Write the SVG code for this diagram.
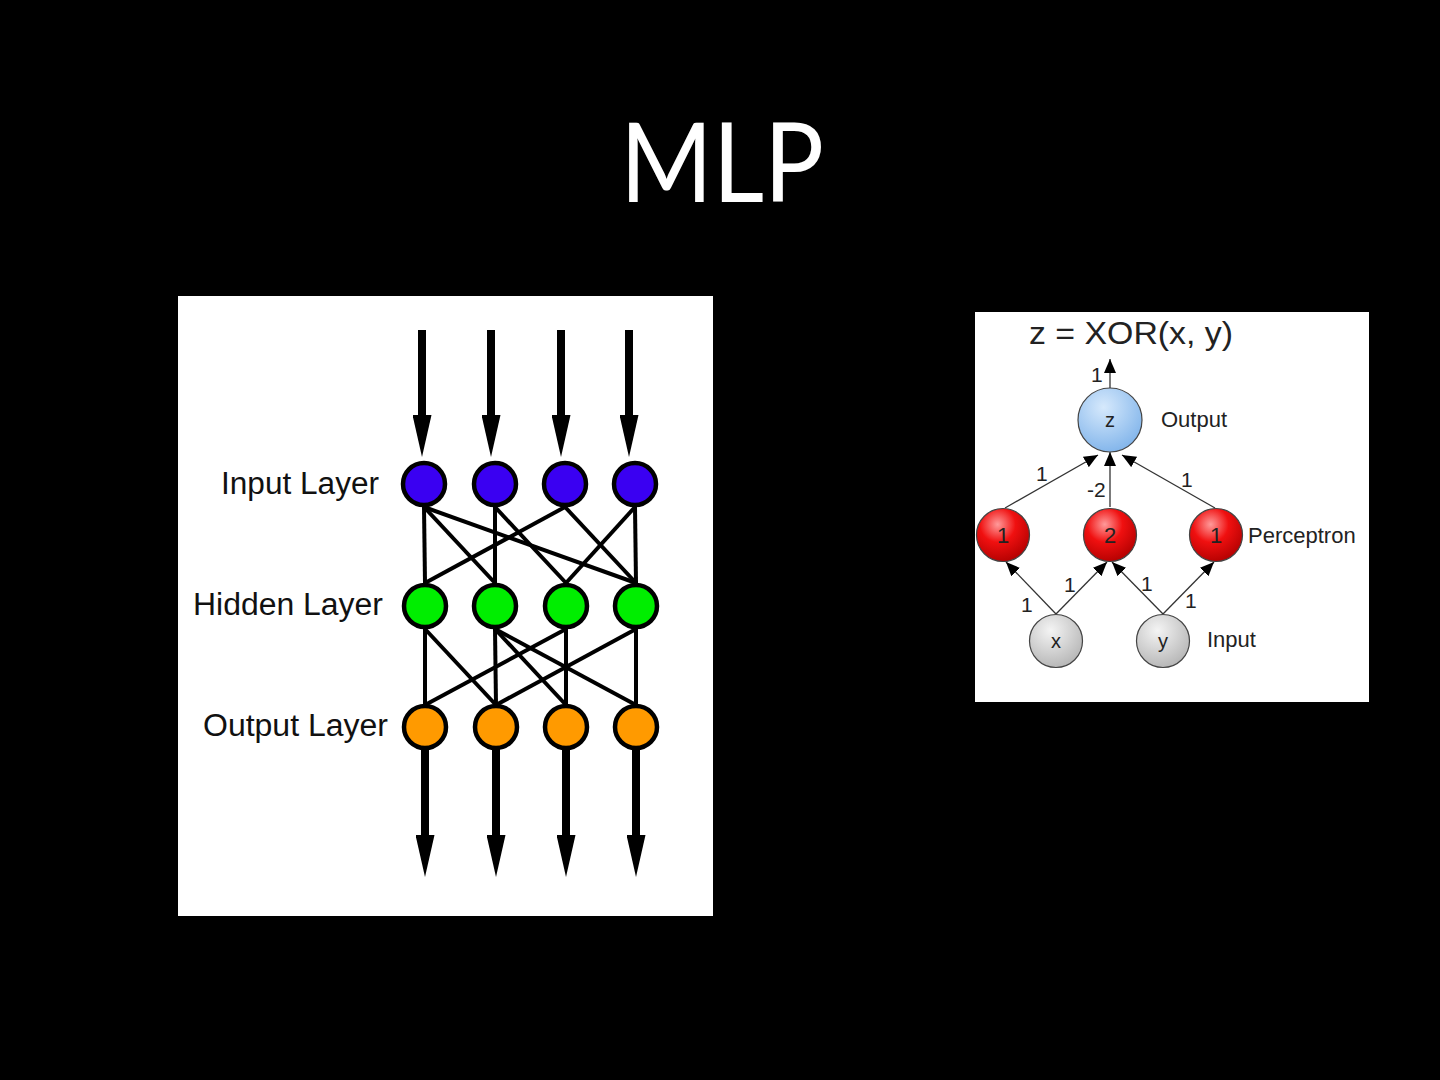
<svg xmlns="http://www.w3.org/2000/svg" width="1440" height="1080" viewBox="0 0 1440 1080">
<defs>
<style>
.bg{fill:#000}
.panel{fill:#fff}
.title{font-family:Lato,"Liberation Sans",sans-serif;font-size:110px;fill:#fff}
.lbl{font-family:"Liberation Sans",Arial,sans-serif;font-size:31px;fill:#111}
.rl{font-family:"Liberation Sans",Arial,sans-serif;font-size:22px;fill:#222}
.in{fill:#3a00f2;stroke:#000;stroke-width:4.5}
.hid{fill:#00ee00;stroke:#000;stroke-width:4.5}
.out{fill:#ff9a00;stroke:#000;stroke-width:4.5}
.e{stroke:#000;stroke-width:4;fill:none}
.big{stroke:#000;stroke-width:8;fill:none}
.thin{stroke:#333;stroke-width:1.3;fill:none}
.rn{stroke:#444;stroke-width:1.2}
</style>
<marker id="bigHead" markerUnits="userSpaceOnUse" markerWidth="42" markerHeight="19" refX="0" refY="9.5" orient="auto" viewBox="0 0 42 19">
<path d="M0,0 L42,9.5 L0,19 z" fill="#000"/>
</marker>
<marker id="smallHead" markerUnits="userSpaceOnUse" markerWidth="14" markerHeight="12" refX="14" refY="6" orient="auto" viewBox="0 0 14 12">
<path d="M0,0 L14,6 L0,12 z" fill="#000"/>
</marker>
<radialGradient id="gBlue" cx="0.4" cy="0.3" r="0.75">
<stop offset="0" stop-color="#d6e9fc"/>
<stop offset="1" stop-color="#7fb3ea"/>
</radialGradient>
<radialGradient id="gRed" cx="0.4" cy="0.3" r="0.75">
<stop offset="0" stop-color="#ff9a9a"/>
<stop offset="0.45" stop-color="#f01010"/>
<stop offset="1" stop-color="#b00000"/>
</radialGradient>
<radialGradient id="gGray" cx="0.4" cy="0.3" r="0.75">
<stop offset="0" stop-color="#f4f4f4"/>
<stop offset="1" stop-color="#b4b4b4"/>
</radialGradient>
</defs>
<rect class="bg" x="0" y="0" width="1440" height="1080"/>
<text class="title" x="620" y="202" textLength="204" lengthAdjust="spacingAndGlyphs">MLP</text>

<!-- Left panel -->
<rect class="panel" x="178" y="296" width="535" height="620"/>
<text class="lbl" x="221" y="494" textLength="158" lengthAdjust="spacingAndGlyphs">Input Layer</text>
<text class="lbl" x="193" y="615" textLength="190" lengthAdjust="spacingAndGlyphs">Hidden Layer</text>
<text class="lbl" x="203" y="736" textLength="185" lengthAdjust="spacingAndGlyphs">Output Layer</text>

<g id="connectors">
<line class="big" x1="422" y1="330" x2="422" y2="415" marker-end="url(#bigHead)"/>
<line class="big" x1="491" y1="330" x2="491" y2="415" marker-end="url(#bigHead)"/>
<line class="big" x1="561" y1="330" x2="561" y2="415" marker-end="url(#bigHead)"/>
<line class="big" x1="629" y1="330" x2="629" y2="415" marker-end="url(#bigHead)"/>
<line class="e" x1="424" y1="507" x2="425" y2="583"/>
<line class="e" x1="424" y1="507" x2="495" y2="583"/>
<line class="e" x1="424" y1="507" x2="636" y2="583"/>
<line class="e" x1="495" y1="507" x2="495" y2="583"/>
<line class="e" x1="495" y1="507" x2="566" y2="583"/>
<line class="e" x1="565" y1="507" x2="425" y2="583"/>
<line class="e" x1="565" y1="507" x2="636" y2="583"/>
<line class="e" x1="635" y1="507" x2="566" y2="583"/>
<line class="e" x1="635" y1="507" x2="636" y2="583"/>
<line class="e" x1="425" y1="629" x2="425" y2="705"/>
<line class="e" x1="425" y1="629" x2="496" y2="705"/>
<line class="e" x1="495" y1="629" x2="496" y2="705"/>
<line class="e" x1="495" y1="629" x2="566" y2="705"/>
<line class="e" x1="495" y1="629" x2="636" y2="705"/>
<line class="e" x1="566" y1="629" x2="425" y2="705"/>
<line class="e" x1="566" y1="629" x2="566" y2="705"/>
<line class="e" x1="636" y1="629" x2="496" y2="705"/>
<line class="e" x1="636" y1="629" x2="636" y2="705"/>
<line class="big" x1="425" y1="748" x2="425" y2="835" marker-end="url(#bigHead)"/>
<line class="big" x1="496" y1="748" x2="496" y2="835" marker-end="url(#bigHead)"/>
<line class="big" x1="566" y1="748" x2="566" y2="835" marker-end="url(#bigHead)"/>
<line class="big" x1="636" y1="748" x2="636" y2="835" marker-end="url(#bigHead)"/>
</g>

<g id="in1"><circle class="in" cx="424" cy="484" r="21"/></g>
<g id="in2"><circle class="in" cx="495" cy="484" r="21"/></g>
<g id="in3"><circle class="in" cx="565" cy="484" r="21"/></g>
<g id="in4"><circle class="in" cx="635" cy="484" r="21"/></g>
<g id="h1"><circle class="hid" cx="425" cy="606" r="21"/></g>
<g id="h2"><circle class="hid" cx="495" cy="606" r="21"/></g>
<g id="h3"><circle class="hid" cx="566" cy="606" r="21"/></g>
<g id="h4"><circle class="hid" cx="636" cy="606" r="21"/></g>
<g id="o1"><circle class="out" cx="425" cy="727" r="21"/></g>
<g id="o2"><circle class="out" cx="496" cy="727" r="21"/></g>
<g id="o3"><circle class="out" cx="566" cy="727" r="21"/></g>
<g id="o4"><circle class="out" cx="636" cy="727" r="21"/></g>

<!-- Right panel -->
<rect class="panel" x="975" y="312" width="394" height="390"/>
<text class="rl" x="1029" y="344" style="font-size:32px" textLength="204" lengthAdjust="spacingAndGlyphs">z = XOR(x, y)</text>

<g id="connectors-right">
<line class="thin" x1="1110" y1="388" x2="1110" y2="359" marker-end="url(#smallHead)"/>
<line class="thin" x1="1005" y1="508" x2="1098" y2="455" marker-end="url(#smallHead)"/>
<line class="thin" x1="1110" y1="507" x2="1110" y2="452" marker-end="url(#smallHead)"/>
<line class="thin" x1="1215" y1="508" x2="1122" y2="455" marker-end="url(#smallHead)"/>
<line class="thin" x1="1056" y1="614" x2="1006" y2="562" marker-end="url(#smallHead)"/>
<line class="thin" x1="1056" y1="614" x2="1107" y2="562" marker-end="url(#smallHead)"/>
<line class="thin" x1="1163" y1="614" x2="1112" y2="562" marker-end="url(#smallHead)"/>
<line class="thin" x1="1163" y1="614" x2="1214" y2="562" marker-end="url(#smallHead)"/>
<text class="rl" x="1091" y="382" style="font-size:21px">1</text>
<text class="rl" x="1036" y="481" style="font-size:21px">1</text>
<text class="rl" x="1087" y="497" style="font-size:21px">-2</text>
<text class="rl" x="1181" y="487" style="font-size:21px">1</text>
<text class="rl" x="1021" y="612" style="font-size:21px">1</text>
<text class="rl" x="1064" y="592" style="font-size:21px">1</text>
<text class="rl" x="1141" y="591" style="font-size:21px">1</text>
<text class="rl" x="1185" y="608" style="font-size:21px">1</text>
</g>

<g id="z"><circle class="rn" cx="1110" cy="420" r="32" fill="url(#gBlue)"/><text class="rl" x="1110" y="427" text-anchor="middle" style="font-size:20px">z</text></g>
<g id="p1"><circle class="rn" cx="1003" cy="535" r="26.5" fill="url(#gRed)"/><text class="rl" x="1003" y="543" text-anchor="middle">1</text></g>
<g id="p2"><circle class="rn" cx="1110" cy="535" r="26.5" fill="url(#gRed)"/><text class="rl" x="1110" y="543" text-anchor="middle">2</text></g>
<g id="p3"><circle class="rn" cx="1216" cy="535" r="26.5" fill="url(#gRed)"/><text class="rl" x="1216" y="543" text-anchor="middle">1</text></g>
<g id="x"><circle class="rn" cx="1056" cy="641" r="26.5" fill="url(#gGray)"/><text class="rl" x="1056" y="648" text-anchor="middle" style="font-size:20px">x</text></g>
<g id="y"><circle class="rn" cx="1163" cy="641" r="26.5" fill="url(#gGray)"/><text class="rl" x="1163" y="648" text-anchor="middle" style="font-size:20px">y</text></g>
<text class="rl" x="1161" y="427">Output</text>
<text class="rl" x="1248" y="543">Perceptron</text>
<text class="rl" x="1207" y="647">Input</text>
</svg>
